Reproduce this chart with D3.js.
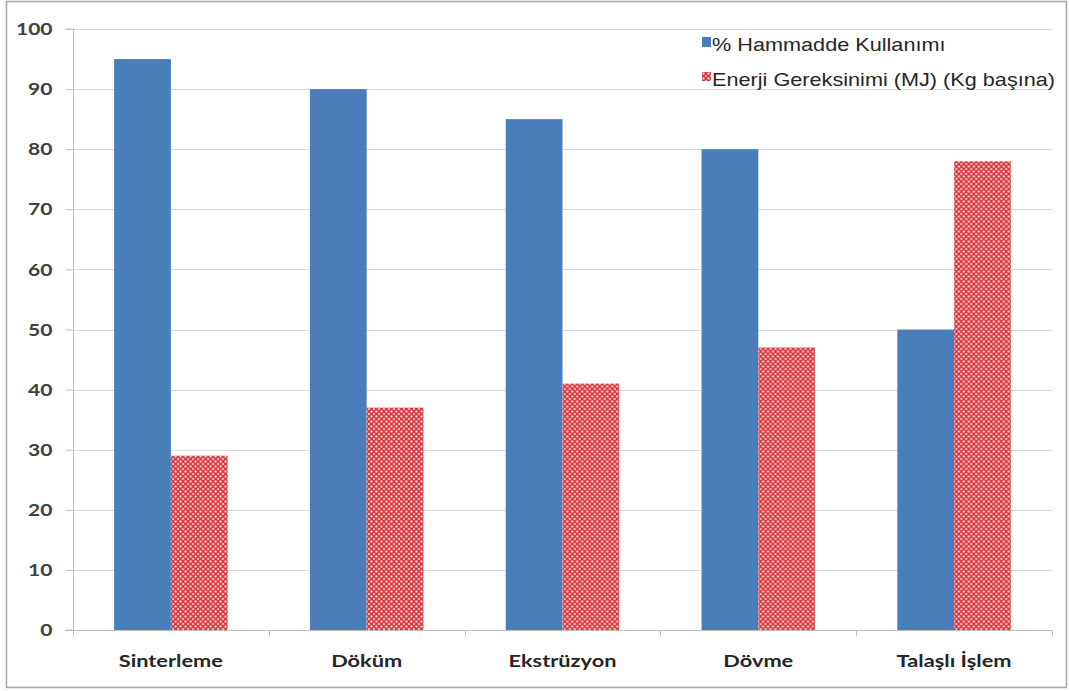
<!DOCTYPE html>
<html>
<head>
<meta charset="utf-8">
<script src="https://cdn.jsdelivr.net/npm/d3@7"></script>
<style>
  html, body { margin: 0; padding: 0; background: #fff; }
  svg { display: block; }
</style>
</head>
<body>
<svg id="chart" width="1070" height="691"></svg>
<script>
// Process categories and the two measured series
const categories = ["Sinterleme", "Döküm", "Ekstrüzyon", "Dövme", "Talaşlı İşlem"];
const seriesNames = ["% Hammadde Kullanımı", "Enerji Gereksinimi (MJ) (Kg başına)"];
const rawMaterialUse = [95, 90, 85, 80, 50];
const energyNeed = [29, 37, 41, 47, 78];
const yTicks = [0, 10, 20, 30, 40, 50, 60, 70, 80, 90, 100];

const W = 1070, H = 691;
const margin = { left: 73, right: 18, top: 29, bottom: 61 };
const svg = d3.select("#chart");

// Widen a text selection horizontally by a factor (the fonts are drawn slightly stretched)
function stretch(sel, k) {
  sel.each(function () {
    const len = this.getComputedTextLength();
    d3.select(this).attr("textLength", len * k).attr("lengthAdjust", "spacingAndGlyphs");
  });
}

// Red checkered fill for the energy series
const defs = svg.append("defs");
const pat = defs.append("pattern")
  .attr("id", "checker")
  .attr("patternUnits", "userSpaceOnUse")
  .attr("width", 5).attr("height", 5);
pat.append("rect").attr("width", 5).attr("height", 5).attr("fill", "#d9383f");
pat.append("rect").attr("x", 0.5).attr("y", 0.5).attr("width", 2).attr("height", 2).attr("fill", "#fbe3e3");
pat.append("rect").attr("x", 3).attr("y", 3).attr("width", 2).attr("height", 2).attr("fill", "#f3b5b7");

// Outer frame
svg.append("rect")
  .attr("x", 6.5).attr("y", 1.5)
  .attr("width", 1060).attr("height", 686)
  .attr("fill", "#fff").attr("stroke", "#a6a6a6").attr("stroke-width", 1.5);

const x0 = d3.scaleBand()
  .domain(categories)
  .range([margin.left, W - margin.right])
  .paddingInner(0.42).paddingOuter(0.21);
const x1 = d3.scaleBand()
  .domain([0, 1])
  .range([0, x0.bandwidth()]);
const y = d3.scaleLinear()
  .domain([0, 100])
  .range([H - margin.bottom, margin.top]);

// Horizontal gridlines
svg.append("g")
  .selectAll("line")
  .data(yTicks.filter(d => d > 0))
  .join("line")
  .attr("x1", margin.left).attr("x2", W - margin.right)
  .attr("y1", d => Math.round(y(d)) + 0.5).attr("y2", d => Math.round(y(d)) + 0.5)
  .attr("stroke", "#d9d9d9").attr("stroke-width", 1);

// Y axis
const yAxis = svg.append("g")
  .attr("transform", `translate(${margin.left + 0.5},0)`)
  .call(d3.axisLeft(y).tickValues(yTicks).tickSize(8).tickPadding(13));
yAxis.select(".domain").attr("stroke", "#bfbfbf").attr("d", `M-8,${y(0)}H0V${y(100)}H-8`);
yAxis.selectAll(".tick line").attr("stroke", "#bfbfbf");
yAxis.selectAll(".tick text")
  .attr("fill", "#404040")
  .style("font-family", "Lato, 'Open Sans', sans-serif")
  .style("font-weight", "bold")
  .style("font-size", "17.5px")
  .call(stretch, 1.2);

// Bars
const groups = svg.append("g")
  .selectAll("g")
  .data(categories)
  .join("g")
  .attr("transform", d => `translate(${x0(d)},0)`);

groups.append("rect")
  .attr("x", x1(0))
  .attr("width", x1.bandwidth())
  .attr("y", (d, i) => y(rawMaterialUse[i]))
  .attr("height", (d, i) => y(0) - y(rawMaterialUse[i]))
  .attr("fill", "#4a7ebb");

groups.append("rect")
  .attr("x", x1(1))
  .attr("width", x1.bandwidth())
  .attr("y", (d, i) => y(energyNeed[i]))
  .attr("height", (d, i) => y(0) - y(energyNeed[i]))
  .attr("fill", "url(#checker)");

// X axis with category boundary ticks
const xAxisG = svg.append("g").attr("transform", `translate(0,${Math.round(y(0)) + 0.5})`);
xAxisG.append("line")
  .attr("x1", margin.left - 8).attr("x2", W - margin.right)
  .attr("stroke", "#bfbfbf");
const bounds = d3.range(categories.length + 1).map(i => margin.left + i * (W - margin.left - margin.right) / categories.length);
xAxisG.selectAll("line.tk")
  .data(bounds)
  .join("line")
  .attr("class", "tk")
  .attr("x1", d => Math.round(d) + 0.5).attr("x2", d => Math.round(d) + 0.5)
  .attr("y1", 0).attr("y2", 6)
  .attr("stroke", "#bfbfbf");

svg.append("g")
  .selectAll("text")
  .data(categories)
  .join("text")
  .attr("x", d => x0(d) + x0.bandwidth() / 2)
  .attr("y", 667)
  .attr("text-anchor", "middle")
  .attr("fill", "#262626")
  .style("font-family", "Lato, 'Open Sans', sans-serif")
  .style("font-weight", "bold")
  .style("font-size", "17px")
  .text(d => d)
  .call(stretch, 1.28);

// Legend
const legend = svg.append("g").attr("transform", "translate(702,37)");
legend.append("rect").attr("x", 0).attr("y", 0).attr("width", 9).attr("height", 10).attr("fill", "#4a7ebb");
legend.append("rect").attr("x", 0).attr("y", 35).attr("width", 9).attr("height", 9).attr("fill", "url(#checker)");
legend.selectAll("text")
  .data(seriesNames)
  .join("text")
  .attr("x", 10)
  .attr("y", (d, i) => 14 + i * 35)
  .attr("fill", "#262626")
  .style("font-family", "'Liberation Sans', Arial, sans-serif")
  .style("font-size", "19px")
  .text(d => d)
  .call(stretch, 1.14);
</script>
</body>
</html>
